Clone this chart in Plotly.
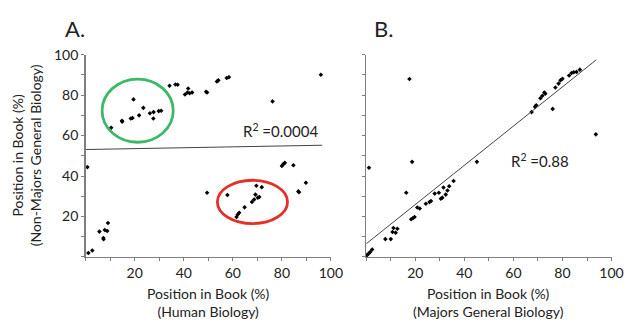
import plotly.graph_objects as go

# ---------------- data ----------------
# Panel A: Human Biology (x) vs Non-Majors General Biology (y)
a_x = [10.4, 14.8, 14.9, 18.4, 19.1, 19.5, 21.8, 23.5, 26.2, 27.6, 27.7, 29.8, 30.8,
       34.2, 36.6, 37.5, 40.5, 41.8, 41.5, 42.4, 43.4, 49.1, 49.5, 53.5, 54.1, 57.5, 58.4,
       76.2, 95.9,
       0.7, 1.1, 2.7, 5.6, 7.2, 7.3, 7.8, 8.8, 9.1, 49.5, 57.8, 61.5, 62.0, 62.6, 64.8,
       67.8, 68.7, 69.2, 69.6, 70.2, 70.8, 71.8, 80.0, 80.6, 81.2, 84.7, 86.7, 87.0, 89.8]
a_y = [63.9, 67.3, 66.8, 68.4, 68.7, 77.9, 70.0, 73.7, 71.0, 68.4, 71.6, 72.1, 72.3,
       84.6, 85.3, 85.1, 80.3, 83.3, 81.3, 80.9, 81.3, 81.7, 81.3, 86.7, 87.3, 88.5, 88.9,
       76.9, 90.1,
       44.4, 1.9, 3.2, 12.5, 9.3, 8.7, 13.3, 12.8, 16.8, 31.7, 30.6, 19.7, 21.0, 21.8, 24.5,
       27.2, 28.4, 30.8, 35.2, 29.3, 29.6, 34.5, 45.0, 45.8, 46.5, 45.3, 32.4, 32.0, 36.7]

# Panel B: Majors General Biology (x) vs Non-Majors General Biology (y)
b_x = [17.6, 18.7, 45.1, 67.4, 68.8, 69.3, 71.0, 71.8, 72.6, 73.0, 76.0, 77.1, 78.4,
       79.2, 80.0, 82.7, 83.7, 84.6, 85.7, 87.1, 93.6,
       1.1, 0.3, 0.9, 1.6, 2.4, 16.3, 7.8, 10.0, 10.7, 11.1, 12.0, 12.7, 18.3, 19.1, 19.7,
       20.8, 21.8, 24.3, 25.8, 26.4, 27.9, 29.6, 30.4, 31.0, 31.5, 32.4, 33.1, 33.8, 35.6]
b_y = [88.0, 47.0, 47.0, 71.6, 74.2, 75.0, 78.5, 79.7, 81.3, 80.7, 73.2, 83.8, 85.7,
       87.3, 88.1, 89.7, 90.9, 91.3, 91.5, 92.6, 60.6,
       44.1, 0.8, 1.6, 2.4, 3.7, 31.7, 8.8, 8.8, 12.3, 14.3, 12.0, 13.9, 18.6, 19.2, 19.7,
       24.4, 23.9, 26.3, 27.1, 27.6, 31.3, 31.7, 28.8, 29.3, 34.3, 30.8, 32.8, 34.9, 37.5]

# regression lines (intercept, slope, x extent)
fit_a = dict(intercept=53.1, slope=0.022, x_end=96.4)
fit_b = dict(intercept=6.5, slope=0.97, x_end=93.8)
r2_a = "0.0004"
r2_b = "0.88"

x_tick_vals = [20, 40, 60, 80, 100]
y_tick_vals = [20, 40, 60, 80, 100]

# highlighted clusters in panel A (center x, center y, radius x, radius y)
green_cluster = (21.2, 72.3, 14.5, 15.6)
red_cluster = (68.0, 27.2, 14.3, 10.7)

# ---------------- figure ----------------
W, H = 636, 323
FONT = "Lato, Open Sans, sans-serif"

def px(X):
    return X / W

def py(Y):
    return 1 - Y / H

fig = go.Figure()

marker = dict(color="black", size=3.5, symbol="diamond")
fig.add_trace(go.Scatter(x=a_x, y=a_y, mode="markers", marker=marker,
                         xaxis="x", yaxis="y", cliponaxis=False, showlegend=False))
fig.add_trace(go.Scatter(x=b_x, y=b_y, mode="markers", marker=marker,
                         xaxis="x2", yaxis="y2", cliponaxis=False, showlegend=False))

for fit, xa, ya in [(fit_a, "x", "y"), (fit_b, "x2", "y2")]:
    xs = [0, fit["x_end"]]
    ys = [fit["intercept"] + fit["slope"] * v for v in xs]
    fig.add_trace(go.Scatter(x=xs, y=ys, mode="lines",
                             line=dict(color="#444444", width=1),
                             xaxis=xa, yaxis=ya, showlegend=False, hoverinfo="skip"))

for (cx, cy, rx, ry), col in [(green_cluster, "#3cb868"), (red_cluster, "#e5302a")]:
    fig.add_shape(type="circle", xref="x", yref="y",
                  x0=cx - rx, x1=cx + rx, y0=cy - ry, y1=cy + ry,
                  line=dict(color=col, width=2.8))

ydom = [py(255), py(47)]
axis_common = dict(range=[0, 100], showline=True, linecolor="#7f7f7f", linewidth=1.5,
                   showgrid=False, zeroline=False, ticks="outside", ticklen=3,
                   tickcolor="#7f7f7f", tickwidth=1,
                   minor=dict(dtick=10, tick0=0, ticks="outside", ticklen=3,
                              tickcolor="#7f7f7f", tickwidth=1),
                   tickfont=dict(family=FONT, size=14, color="#222222"))

fig.update_layout(
    width=W, height=H, autosize=False,
    margin=dict(l=0, r=0, t=0, b=0),
    paper_bgcolor="white", plot_bgcolor="white",
    xaxis=dict(axis_common, domain=[px(87.3), px(337.3)], anchor="y",
               tickvals=x_tick_vals),
    yaxis=dict(axis_common, domain=ydom, anchor="x", tickvals=y_tick_vals),
    xaxis2=dict(axis_common, domain=[px(373.3), px(623.3)], anchor="y2",
                tickvals=x_tick_vals),
    yaxis2=dict(axis_common, domain=ydom, anchor="x2", tickvals=y_tick_vals,
                showticklabels=False),
)

def ann(text, X, Y, size=14, angle=0):
    fig.add_annotation(text=text, x=px(X), y=py(Y), xref="paper", yref="paper",
                       showarrow=False, xanchor="center", yanchor="middle",
                       textangle=angle,
                       font=dict(family=FONT, size=size, color="#222222"))

ann("A.", 76, 20, size=22)
ann("B.", 391, 20, size=22)
ann("Position in Book (%)<br>(Human Biology)", 212, 302, size=14)
ann("Position in Book (%)<br>(Majors General Biology)", 498, 302, size=14)
ann("Position in Book (%)<br>(Non-Majors General Biology)", 27, 150, size=14, angle=-90)
ann("R<sup>2</sup> =" + r2_a, 286, 125, size=15)
ann("R<sup>2</sup> =" + r2_b, 550, 156, size=15)

fig.write_html(
    "out.html",
    config={"displayModeBar": False, "staticPlot": True},
    post_script="document.body.style.margin='0';document.body.style.overflow='hidden';",
)
